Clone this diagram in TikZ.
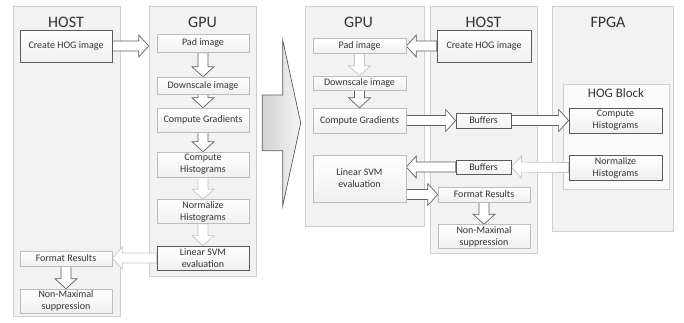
\documentclass[tikz,border=0pt]{standalone}
\usepackage{fontspec}
\setmainfont{Carlito}
\usetikzlibrary{calc}
\pgfdeclarelayer{bg}
\pgfdeclarelayer{mid}
\pgfsetlayers{bg,mid,main}
\definecolor{txt}{HTML}{333333}
\definecolor{panelborder}{HTML}{CFCFCF}
\definecolor{panelfill}{HTML}{F2F2F2}
\definecolor{lightborder}{HTML}{BDBDBD}
\definecolor{darkborder}{HTML}{5A5A5A}
\definecolor{darkarrow}{HTML}{606060}
\definecolor{lightarrow}{HTML}{C4C4C4}
\tikzset{
  panel/.style={draw=panelborder, fill=panelfill, line width=0.6pt, rectangle, inner sep=0pt},
  lbox/.style={rectangle, draw=lightborder, top color=white, bottom color=gray!12, text=txt,
    font=\fontsize{10}{12}\selectfont, align=center, inner sep=0pt, line width=0.6pt},
  dbox/.style={lbox, draw=darkborder, line width=0.8pt},
  ptitle/.style={font=\fontsize{16}{18}\selectfont, text=txt, anchor=base, inner sep=0pt},
  darr/.style={draw=darkarrow, fill=white, line width=0.7pt, line join=miter},
  larr/.style={draw=lightarrow, fill=white, line width=0.7pt, line join=miter},
}
\newcommand\barrow[3]{%
  \coordinate (ba) at (#2);
  \coordinate (bb) at (#3);
  \coordinate (bc) at ($(bb)!10pt!(ba)$);
  \draw[#1] ($(ba)!5pt!90:(bb)$) -- ($(bc)!5pt!90:(bb)$) -- ($(bc)!11pt!90:(bb)$) -- (bb)
    -- ($(bc)!11pt!-90:(bb)$) -- ($(bc)!5pt!-90:(bb)$) -- ($(ba)!5pt!-90:(bb)$) -- cycle;
}
\begin{document}
\begin{tikzpicture}[x=1pt,y=-1pt]
\useasboundingbox (0,0) rectangle (684,322);
% panels
\begin{pgfonlayer}{bg}
\node[panel, minimum width=107pt, minimum height=310pt] (hostL) at (66.5,161) {};
\node[panel, minimum width=107pt, minimum height=270pt] (gpuL) at (202.5,141) {};
\node[panel, minimum width=119pt, minimum height=220pt] (gpuR) at (364.5,116) {};
\node[panel, minimum width=107pt, minimum height=247pt] (hostR) at (483.5,129.5) {};
\node[panel, minimum width=121pt, minimum height=225pt] (fpga) at (612.5,118.5) {};
\node[panel, fill=gray!3, minimum width=106pt, minimum height=105pt] (hogblk) at (616,136.5) {};
\end{pgfonlayer}
% titles
\node[ptitle] (tHostL) at (66,27) {HOST};
\node[ptitle] (tGpuL) at (202.5,27) {GPU};
\node[ptitle] (tGpuR) at (358.5,27) {GPU};
\node[ptitle] (tHostR) at (483.5,27) {HOST};
\node[ptitle] (tFpga) at (608,27) {FPGA};
\node[ptitle, font=\fontsize{13}{15}\selectfont] (tHogBlk) at (616,97) {HOG Block};
% left host
\node[dbox, minimum width=92pt, minimum height=32pt] (hogL) at (66,46) {Create HOG image};
\node[lbox, minimum width=92pt, minimum height=15pt] (frL) at (66,258.5) {Format Results};
\node[lbox, minimum width=92pt, minimum height=24pt] (nmL) at (66,301) {Non-Maximal\\suppression};
% left gpu
\node[lbox, minimum width=92pt, minimum height=18.5pt] (padL) at (203,43.3) {Pad image};
\node[lbox, minimum width=92pt, minimum height=17pt] (dsL) at (203,85.5) {Downscale image};
\node[lbox, minimum width=92pt, minimum height=24pt] (cgL) at (203,120) {Compute Gradients};
\node[lbox, minimum width=92pt, minimum height=25pt] (chL) at (203,164.5) {Compute\\Histograms};
\node[lbox, minimum width=92pt, minimum height=24pt] (nhL) at (203,211.5) {Normalize\\Histograms};
\node[dbox, minimum width=92pt, minimum height=24pt] (svmL) at (203,258) {Linear SVM\\evaluation};
% right gpu
\node[lbox, minimum width=93pt, minimum height=15pt] (padR) at (359.5,45.5) {Pad image};
\node[lbox, minimum width=93pt, minimum height=14pt] (dsR) at (359.5,83) {Downscale image};
\node[lbox, minimum width=93pt, minimum height=25pt] (cgR) at (359.5,120.5) {Compute Gradients};
\node[lbox, minimum width=93pt, minimum height=47pt] (svmR) at (359.5,178.5) {Linear SVM\\evaluation};
% right host
\node[dbox, minimum width=94pt, minimum height=32pt] (hogR) at (484,46) {Create HOG image};
\node[dbox, minimum width=55pt, minimum height=15pt] (buf1) at (483.5,120.5) {Buffers};
\node[dbox, minimum width=55pt, minimum height=14pt] (buf2) at (483.5,167) {Buffers};
\node[lbox, minimum width=92pt, minimum height=15pt] (frR) at (484,194.5) {Format Results};
\node[lbox, minimum width=92pt, minimum height=24pt] (nmR) at (484,236.5) {Non-Maximal\\suppression};
% fpga
\node[dbox, minimum width=93pt, minimum height=25pt] (chR) at (615.5,120.5) {Compute\\Histograms};
\node[dbox, minimum width=93pt, minimum height=25pt] (nhR) at (615.5,167.5) {Normalize\\Histograms};
% big transition arrow
\draw[draw=darkborder, left color=gray!35, right color=gray!8, line width=0.7pt]
  (262.3,95) -- (282.7,95) -- (282.7,40) -- (300.7,123) -- (282.7,206) -- (282.7,150.7) -- (262.3,150.7) -- cycle;
\begin{pgfonlayer}{mid}
% left arrows
\barrow{darr}{hogL.east}{hogL.east -| gpuL.west}
\barrow{darr}{padL.south}{dsL.north}
\barrow{darr}{dsL.south}{cgL.north}
\barrow{darr}{cgL.south}{chL.north}
\barrow{larr}{chL.south}{nhL.north}
\barrow{larr}{nhL.south}{svmL.north}
\barrow{larr}{svmL.west}{svmL.west -| frL.east}
\barrow{darr}{frL.south}{nmL.north}
% right arrows
\barrow{darr}{hogR.west}{hogR.west -| padR.east}
\barrow{larr}{padR.south}{dsR.north}
\barrow{darr}{dsR.south}{cgR.north}
\barrow{darr}{cgR.east}{buf1.west}
\barrow{darr}{buf1.east}{chR.west}
\barrow{larr}{nhR.west}{buf2.east}
\barrow{darr}{buf2.west}{buf2.west -| svmR.east}
\barrow{darr}{frR.west -| svmR.east}{frR.west}
\barrow{darr}{frR.south}{nmR.north}
\end{pgfonlayer}
\end{tikzpicture}
\end{document}
